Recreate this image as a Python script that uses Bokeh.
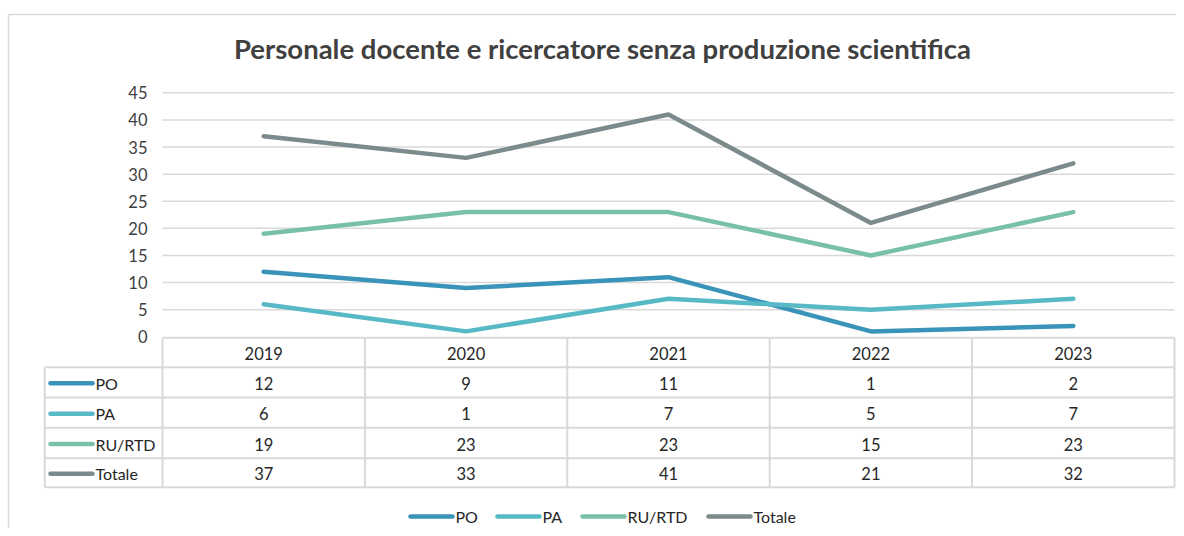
from bokeh.plotting import figure
from bokeh.models import Range1d
from bokeh.core.properties import value
from bokeh.embed import file_html
from bokeh.resources import INLINE

years = ["2019", "2020", "2021", "2022", "2023"]
series_names = ["PO", "PA", "RU/RTD", "Totale"]
po = [12, 9, 11, 1, 2]
pa = [6, 1, 7, 5, 7]
ru_rtd = [19, 23, 23, 15, 23]
totale = [37, 33, 41, 21, 32]
y_ticks = [0, 5, 10, 15, 20, 25, 30, 35, 40, 45]
title_text = "Personale docente e ricercatore senza produzione scientifica"

series_values = [po, pa, ru_rtd, totale]
colors = ["#3A93B9", "#57B8C6", "#79C1A6", "#7B8B8B"]

W, H = 1176, 528
FONT = value("Lato")
TXT = "#262626"
GRID = "#D9D9D9"
OFF = 1  # observed page offset of the canvas

X0, XS = 264.2 - OFF, 202.4       # fig px of first category, px per category
Y0, YS = 337.3 - OFF, 244.0 / 45  # fig px of value 0, px per unit


def X(px):
    return (px - OFF - X0) / XS


def Y(py):
    return (Y0 - (py - OFF)) / YS


p = figure(width=W, height=H, output_backend="svg", toolbar_location=None,
           x_range=Range1d(-X0 / XS, (W - X0) / XS),
           y_range=Range1d((Y0 - H) / YS, Y0 / YS),
           x_axis_location=None, y_axis_location=None,
           min_border=0, outline_line_color=None)
p.xgrid.visible = False
p.ygrid.visible = False

# outer chart border
p.segment(x0=[X(9), X(9)], y0=[Y(15), Y(15)], x1=[X(1190), X(9)], y1=[Y(15), Y(560)],
          line_color=GRID, line_width=1.5)

# title
p.text(x=[X(603)], y=[Y(49)], text=[title_text], text_font=FONT,
       text_font_size=value("27.5px"), text_font_style="bold", text_color="#404040",
       text_align="center", text_baseline="middle")

# gridlines and y tick labels
gl = [t for t in y_ticks if t > 0]
p.segment(x0=[X(163)] * len(gl), y0=gl, x1=[X(1175)] * len(gl), y1=gl,
          line_color=GRID, line_width=1.5)
p.text(x=[X(148)] * len(y_ticks), y=y_ticks, text=[str(t) for t in y_ticks],
       text_font=FONT, text_font_size=value("16.5px"), text_color="#404040",
       text_align="right", text_baseline="middle")

# series lines
xs = list(range(len(years)))
for vals, c in zip(series_values, colors):
    p.line(xs, vals, line_color=c, line_width=4.5, line_cap="round", line_join="round")

# data table
row_edges = [338.3, 367.7, 398.0, 428.3, 458.7, 487.7]
col_edges = [163 + i * 202.4 for i in range(len(years) + 1)]
tx0, tx1 = [], []
ty0, ty1 = [], []
for i, ry in enumerate(row_edges):
    left = 163 if i == 0 else 45.3
    tx0.append(X(left)); tx1.append(X(1175)); ty0.append(Y(ry)); ty1.append(Y(ry))
for cx in col_edges:
    tx0.append(X(cx)); tx1.append(X(cx)); ty0.append(Y(row_edges[0])); ty1.append(Y(row_edges[-1]))
tx0.append(X(45.3)); tx1.append(X(45.3)); ty0.append(Y(row_edges[1])); ty1.append(Y(row_edges[-1]))
p.segment(x0=tx0, y0=ty0, x1=tx1, y1=ty1, line_color=GRID, line_width=2)

hy = Y((row_edges[0] + row_edges[1]) / 2 + 1)
p.text(x=xs, y=[hy] * len(xs), text=years, text_font=FONT, text_font_size=value("16.5px"),
       text_color=TXT, text_align="center", text_baseline="middle")

for r, (name, vals, c) in enumerate(zip(series_names, series_values, colors)):
    cy = Y((row_edges[r + 1] + row_edges[r + 2]) / 2 + 1)
    p.segment(x0=[X(51)], y0=[cy], x1=[X(93)], y1=[cy], line_color=c, line_width=4.5,
              line_cap="round")
    p.text(x=[X(96)], y=[cy], text=[name], text_font=FONT, text_font_size=value("16px"),
           text_color=TXT, text_align="left", text_baseline="middle")
    p.text(x=xs, y=[cy] * len(xs), text=[str(v) for v in vals], text_font=FONT,
           text_font_size=value("16.5px"), text_color=TXT, text_align="center",
           text_baseline="middle")

# bottom legend
leg_x = [410, 497, 582, 708]
ly = Y(517)
for lx, name, c in zip(leg_x, series_names, colors):
    p.segment(x0=[X(lx + 1)], y0=[ly], x1=[X(lx + 43)], y1=[ly], line_color=c,
              line_width=4.5, line_cap="round")
    p.text(x=[X(lx + 46)], y=[ly], text=[name], text_font=FONT,
           text_font_size=value("16px"), text_color=TXT, text_align="left",
           text_baseline="middle")

open("out.html", "w").write(file_html(p, INLINE))
